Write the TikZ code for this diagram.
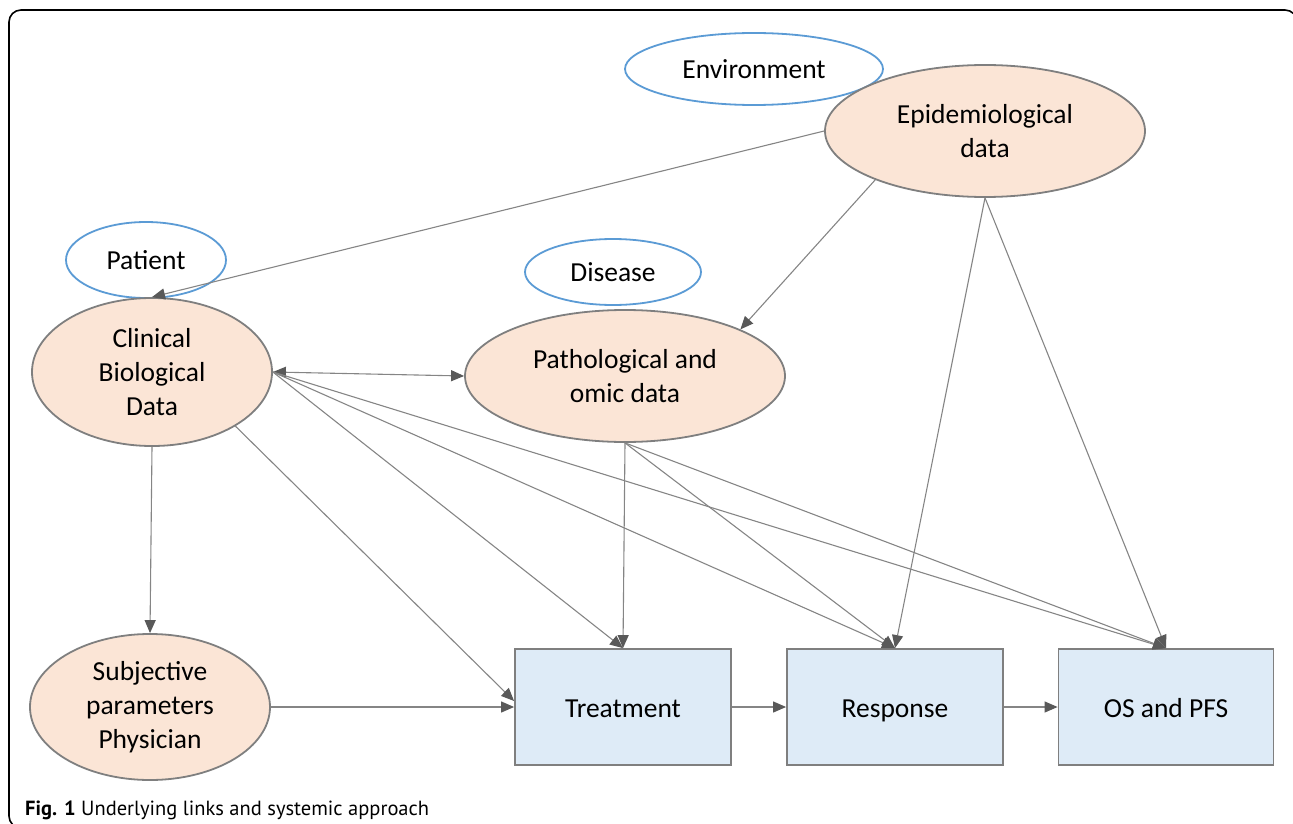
\documentclass[tikz,border=0pt]{standalone}
\usepackage{fontspec}
\setmainfont{Carlito}
\newfontfamily\capfont{PT Sans}
\usetikzlibrary{shapes.geometric,arrows.meta}
\definecolor{peach}{HTML}{FBE5D6}
\definecolor{boxblue}{HTML}{DEEBF7}
\definecolor{ellblue}{HTML}{5B9BD5}
\definecolor{edgegray}{HTML}{7F7F7F}
\definecolor{linegray}{HTML}{858585}
\definecolor{headgray}{HTML}{595959}
\begin{document}
\begin{tikzpicture}[x=1pt,y=-1pt,
  lbl/.style={font=\fontsize{27.5}{34}\selectfont, align=center, inner sep=0pt},
  dataell/.style={lbl, ellipse, draw=edgegray, fill=peach, line width=1.8pt},
  ctxell/.style={lbl, ellipse, draw=ellblue, fill=white, line width=1.8pt},
  outbox/.style={lbl, rectangle, draw=edgegray, fill=boxblue, line width=1.8pt, text height=21pt, text depth=0pt},
  link/.style={draw=linegray, line width=1.1pt, -{Triangle[length=13pt,width=11pt,color=headgray]}},
  dlink/.style={draw=linegray, line width=1.1pt, {Triangle[length=13pt,width=11pt,color=headgray]}-{Triangle[length=13pt,width=11pt,color=headgray]}}
]
\useasboundingbox (0,0) rectangle (1293,824);
\draw[line width=1.6pt, rounded corners=12pt] (9,10) rectangle (1297,828);

\node[ctxell, minimum width=258pt, minimum height=72pt] (env) at (754,69) {Environment};
\node[dataell, minimum width=320pt, minimum height=132pt] (epi) at (985,131) {Epidemiological\\data};
\node[ctxell, minimum width=160pt, minimum height=76pt] (pat) at (146,260) {Patient};
\node[dataell, minimum width=240pt, minimum height=148pt] (clin) at (152,372) {Clinical\\Biological\\Data};
\node[ctxell, minimum width=176pt, minimum height=66pt] (dis) at (613,272) {Disease};
\node[dataell, minimum width=320pt, minimum height=132pt] (path) at (625,376) {Pathological and\\omic data};
\node[dataell, minimum width=240pt, minimum height=146pt] (subj) at (150,707) {Subjective\\parameters\\Physician};
\node[outbox, minimum width=216pt, minimum height=116pt] (treat) at (623,707) {Treatment};
\node[outbox, minimum width=216pt, minimum height=116pt] (resp) at (895,707) {Response};
\node[outbox, minimum width=215pt, minimum height=116pt] (os) at (1166,707) {OS and PFS};

\draw[link] (epi.west) -- (clin.north);
\draw[link] (epi.204) -- (path.22);
\draw[link] (epi.south) -- (resp.north);
\draw[link] (epi.south) -- (os.north);
\draw[dlink] (clin.east) -- (path.west);
\draw[link] (clin.east) -- (treat.north);
\draw[link] (clin.east) -- (resp.north);
\draw[link] (clin.east) -- (os.north);
\draw[link] (clin.-33) -- ([yshift=6pt]treat.west);
\draw[link] (clin.south) -- (subj.north);
\draw[link] (subj.east) -- (treat.west);
\draw[link] (path.south) -- (treat.north);
\draw[link] (path.south) -- (resp.north);
\draw[link] (path.south) -- (os.north);
\draw[link] (treat.east) -- (resp.west);
\draw[link] (resp.east) -- (os.west);

\node[anchor=base west, inner sep=0pt, font=\capfont\fontsize{20.5}{24}\selectfont] (cap) at (25,815) {\textbf{Fig. 1} Underlying links and systemic approach};
\end{tikzpicture}
\end{document}
